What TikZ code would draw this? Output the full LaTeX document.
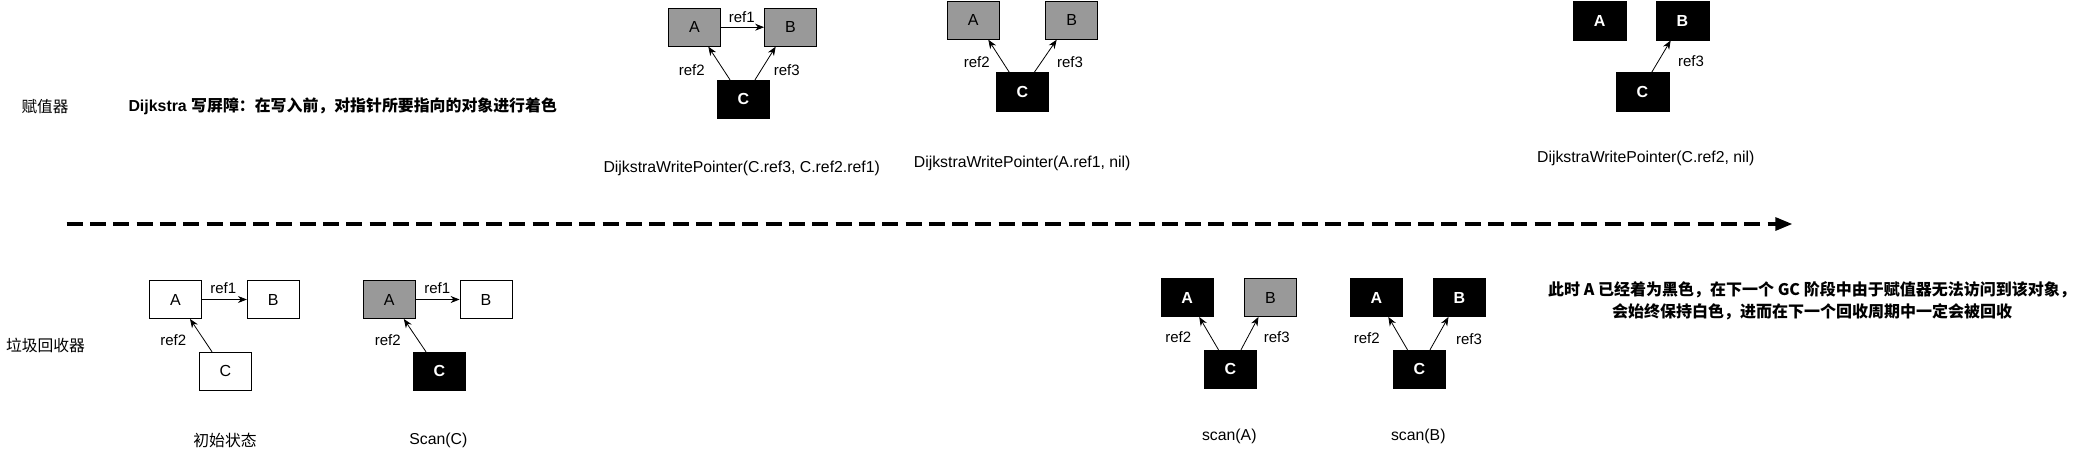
\documentclass[tikz,border=0pt]{standalone}
\usepackage{fontspec}
\setmainfont{Liberation Sans}
\newfontfamily\cjk{Noto Sans CJK SC}
\usetikzlibrary{arrows.meta}
\tikzset{
  objbox/.style={draw=black, line width=0.8pt, minimum width=52pt, minimum height=38pt, inner sep=0pt, font=\fontsize{16}{18}\selectfont},
  whitebox/.style={objbox, fill=white, text=black},
  greybox/.style={objbox, fill=black!40, text=black},
  blkbox/.style={objbox, fill=black, text=white, font=\fontsize{16}{18}\selectfont\bfseries},
  reflbl/.style={inner sep=0pt, font=\fontsize{15}{17}\selectfont},
  captxt/.style={inner sep=0pt, font=\fontsize{15.8}{18}\selectfont},
  refarrow/.style={line width=0.8pt, -{Stealth[length=9pt,width=7pt]}},
}
\begin{document}
\begin{tikzpicture}[x=1pt,y=-1pt]
\useasboundingbox (0,0) rectangle (2089,456);

% ---------- labels ----------
\node[inner sep=0pt, font=\fontsize{15.6}{18}\selectfont\cjk] (lab1) at (45,106.7) {赋值器};
\node[inner sep=0pt, anchor=west, font=\fontsize{15.9}{18}\selectfont\bfseries] (title) at (128.3,106.7) {Dijkstra {\cjk 写屏障：在写入前，对指针所要指向的对象进行着色}};
\node[inner sep=0pt, font=\fontsize{15.8}{18}\selectfont\cjk] (lab2) at (45.5,345) {垃圾回收器};

% ---------- timeline ----------
\coordinate (ts) at (66.7,224);
\coordinate (te) at (1792.3,224);
\draw[line width=3.2pt, dash pattern=on 16pt off 7.3pt, -{Triangle[length=17pt,width=13pt]}] (ts) -- (te);

% ---------- top group 1 ----------
\node[greybox] (t1A) at (694.5,27.2) {A};
\node[greybox] (t1B) at (790.5,27.2) {B};
\node[blkbox]  (t1C) at (743.3,99.2) {C};
\draw[refarrow] (t1A.east) -- (t1B.west);
\draw[refarrow] ([xshift=-13.3pt]t1C.north) -- ([xshift=13.8pt]t1A.south);
\draw[refarrow] ([xshift=11.7pt]t1C.north) -- ([xshift=-14.8pt]t1B.south);
\node[reflbl] (t1r1) at (741.7,16.7) {ref1};
\node[reflbl] (t1r2) at (691.7,70) {ref2};
\node[reflbl] (t1r3) at (786.7,70) {ref3};
\node[captxt] (t1cap) at (741.7,168.3) {DijkstraWritePointer(C.ref3, C.ref2.ref1)};

% ---------- top group 2 ----------
\node[greybox] (t2A) at (973.3,20.3) {A};
\node[greybox] (t2B) at (1071.7,20.3) {B};
\node[blkbox, minimum height=39pt]  (t2C) at (1022.5,92.2) {C};
\draw[refarrow] ([xshift=-13.2pt]t2C.north) -- ([xshift=15pt]t2A.south);
\draw[refarrow] ([xshift=11.8pt]t2C.north) -- ([xshift=-15pt]t2B.south);
\node[reflbl] (t2r2) at (976.7,62.3) {ref2};
\node[reflbl] (t2r3) at (1070,62.3) {ref3};
\node[captxt] (t2cap) at (1022.2,163.3) {DijkstraWritePointer(A.ref1, nil)};

% ---------- top group 3 ----------
\node[blkbox, minimum width=53pt, minimum height=39pt] (t3A) at (1599.7,20.5) {A};
\node[blkbox, minimum width=53pt, minimum height=39pt] (t3B) at (1682.5,20.5) {B};
\node[blkbox, minimum width=53pt, minimum height=39pt] (t3C) at (1642.5,92.2) {C};
\draw[refarrow] ([xshift=9.2pt]t3C.north) -- ([xshift=-11.8pt]t3B.south);
\node[reflbl] (t3r3) at (1691,61) {ref3};
\node[captxt] (t3cap) at (1645.8,158.3) {DijkstraWritePointer(C.ref2, nil)};

% ---------- bottom group 1 ----------
\node[whitebox] (b1A) at (175.5,299.5) {A};
\node[whitebox] (b1B) at (273.3,299.5) {B};
\node[whitebox] (b1C) at (225.5,371.2) {C};
\draw[refarrow] (b1A.east) -- (b1B.west);
\draw[refarrow] ([xshift=-13.5pt]b1C.north) -- ([xshift=14.5pt]b1A.south);
\node[reflbl] (b1r1) at (223.3,287.7) {ref1};
\node[reflbl] (b1r2) at (173.3,340) {ref2};
\node[captxt, font=\fontsize{15.8}{18}\selectfont\cjk] (b1cap) at (225,440) {初始状态};

% ---------- bottom group 2 ----------
\node[greybox] (b2A) at (389.3,299.5) {A};
\node[whitebox] (b2B) at (486,299.5) {B};
\node[blkbox] (b2C) at (439.5,371.2) {C};
\draw[refarrow] (b2A.east) -- (b2B.west);
\draw[refarrow] ([xshift=-13.5pt]b2C.north) -- ([xshift=14.5pt]b2A.south);
\node[reflbl] (b2r1) at (437.3,287.7) {ref1};
\node[reflbl] (b2r2) at (387.7,340) {ref2};
\node[captxt] (b2cap) at (438.3,440) {Scan(C)};

% ---------- bottom group 3 ----------
\node[blkbox] (b3A) at (1187.2,297.5) {A};
\node[greybox] (b3B) at (1270.5,297.5) {B};
\node[blkbox] (b3C) at (1230.5,369.2) {C};
\draw[refarrow] ([xshift=-12pt]b3C.north) -- ([xshift=12pt]b3A.south);
\draw[refarrow] ([xshift=10.5pt]b3C.north) -- ([xshift=-12pt]b3B.south);
\node[reflbl] (b3r2) at (1178.3,337.3) {ref2};
\node[reflbl] (b3r3) at (1276.7,337.3) {ref3};
\node[captxt] (b3cap) at (1229.3,436.7) {scan(A)};

% ---------- bottom group 4 ----------
\node[blkbox] (b4A) at (1376.3,297.5) {A};
\node[blkbox] (b4B) at (1459.5,297.5) {B};
\node[blkbox] (b4C) at (1419.5,369.2) {C};
\draw[refarrow] ([xshift=-12pt]b4C.north) -- ([xshift=12pt]b4A.south);
\draw[refarrow] ([xshift=10.5pt]b4C.north) -- ([xshift=-11pt]b4B.south);
\node[reflbl] (b4r2) at (1366.7,338.3) {ref2};
\node[reflbl] (b4r3) at (1469,339.3) {ref3};
\node[captxt] (b4cap) at (1418.3,436.7) {scan(B)};

% ---------- note ----------
\node[inner sep=0pt, align=center, font=\fontsize{16}{21.7}\selectfont\cjk\bfseries] (note) at (1812,301) {此时 A 已经着为黑色，在下一个 GC 阶段中由于赋值器无法访问到该对象，\\会始终保持白色，进而在下一个回收周期中一定会被回收};
\end{tikzpicture}
\end{document}
